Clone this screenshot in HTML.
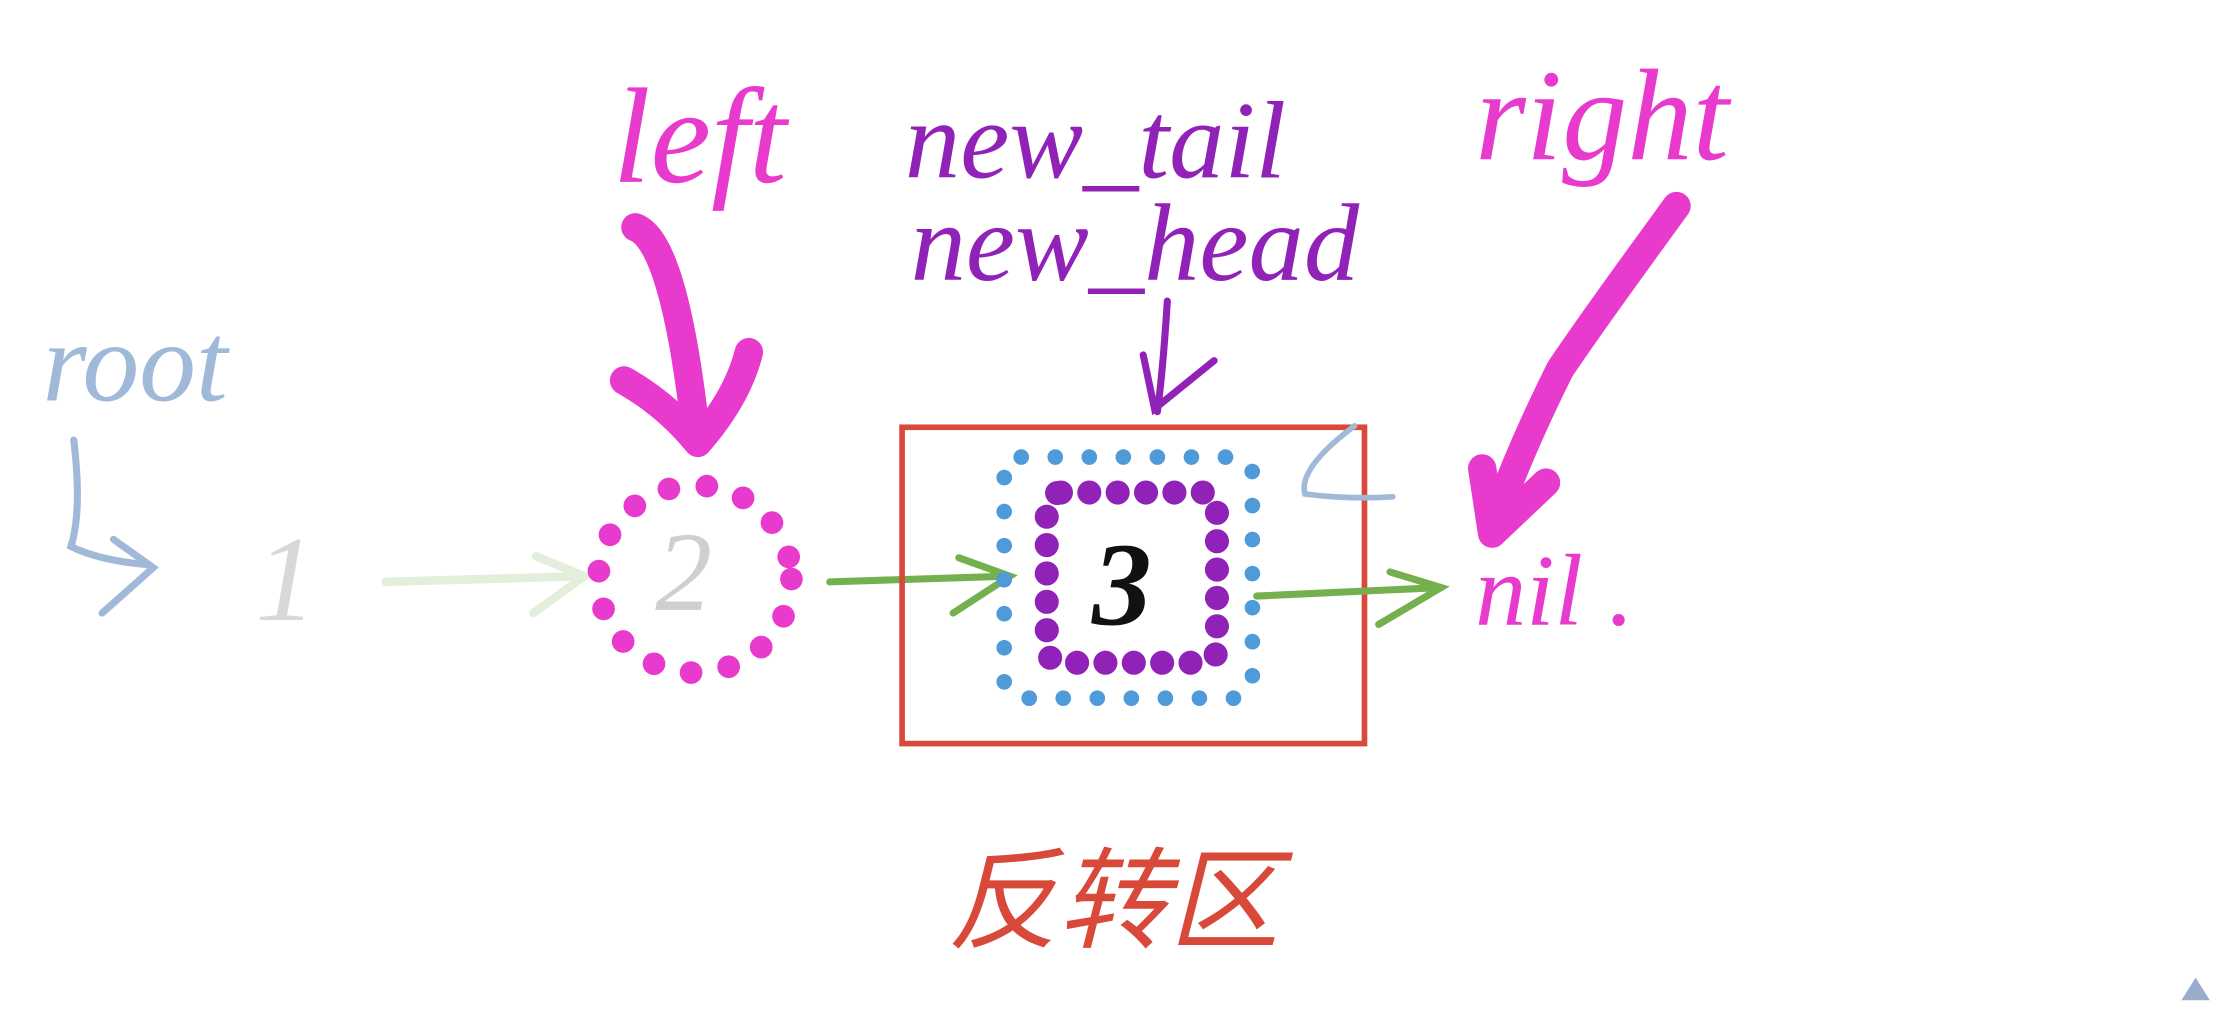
<!DOCTYPE html>
<html><head><meta charset="utf-8"><style>
html,body{margin:0;padding:0;background:#fff;width:2224px;height:1012px;overflow:hidden}
svg{display:block}
text{font-family:"Liberation Serif","Noto Sans CJK SC",serif;font-style:italic}
</style></head><body>
<svg width="2224" height="1012" viewBox="0 0 1568 713" xmlns="http://www.w3.org/2000/svg">
<rect width="1568" height="713" fill="#fff"/>
<!-- labels -->
<text x="432" y="128" font-size="96" fill="#e83bcd">left</text>
<text x="638" y="125" font-size="78" fill="#9022b8">new_tail</text>
<text x="642" y="197" font-size="78" fill="#9022b8">new_head</text>
<text x="1040" y="112" font-size="92" fill="#e83bcd">right</text>
<text x="30" y="282" font-size="80" fill="#a1b9d8">root</text>
<!-- root arrow -->
<path d="M52 310 Q58 360 50 385 Q70 395 105 398 M80 380 L108 400 L72 432" fill="none" stroke="#a1b9d8" stroke-width="5" stroke-linecap="round"/>
<text x="180" y="437" font-size="86" fill="#d8d8d8">1</text>
<path d="M272 410 L410 406 M378 392 L412 406 L376 432" fill="none" stroke="#e3eedb" stroke-width="6" stroke-linecap="round"/>
<text x="462" y="430" font-size="80" fill="#cfcfcf">2</text>
<ellipse cx="490" cy="408" rx="68" ry="66" fill="none" stroke="#e83bcd" stroke-width="16" stroke-linecap="round" stroke-dasharray="0 27"/>
<!-- big left arrow -->
<path d="M448 160 Q475 170 490 300 M440 268 Q470 285 492 312 Q520 280 528 248" fill="none" stroke="#e83bcd" stroke-width="20" stroke-linecap="round" stroke-linejoin="round"/>
<path d="M585 410 L710 406 M676 393 L712 406 L672 432" fill="none" stroke="#74b04e" stroke-width="5" stroke-linecap="round"/>
<rect x="636" y="301" width="326" height="223" fill="none" stroke="#d9493a" stroke-width="4"/>
<rect x="708" y="322" width="175" height="170" rx="12" fill="none" stroke="#4f9ad8" stroke-width="11" stroke-linecap="round" stroke-dasharray="0 24"/>
<rect x="738" y="347" width="120" height="120" rx="10" fill="none" stroke="#9022b8" stroke-width="17" stroke-linecap="round" stroke-dasharray="0 20"/>
<text x="770" y="440" font-size="84" font-weight="bold" fill="#111">3</text>
<path d="M823 212 Q820 260 816 290 M806 250 L814 288 L856 254" fill="none" stroke="#9022b8" stroke-width="5" stroke-linecap="round"/>
<path d="M955 300 Q915 330 920 348 Q950 352 982 350" fill="none" stroke="#a1b9d8" stroke-width="4" stroke-linecap="round"/>
<path d="M886 420 L1015 414 M980 403 L1016 414 L972 440" fill="none" stroke="#74b04e" stroke-width="5" stroke-linecap="round"/>
<text x="1040" y="440" font-size="72" fill="#e83bcd">nil .</text>
<path d="M1182 145 Q1120 230 1100 260 Q1070 320 1052 372 M1045 330 L1052 376 L1090 340" fill="none" stroke="#e83bcd" stroke-width="20" stroke-linecap="round" stroke-linejoin="round"/>
<text x="668" y="662" font-size="78" fill="#d9493a">反转区</text>
<polygon points="1538,705 1558,705 1548,689" fill="#9aaccc"/>
</svg>
</body></html>
